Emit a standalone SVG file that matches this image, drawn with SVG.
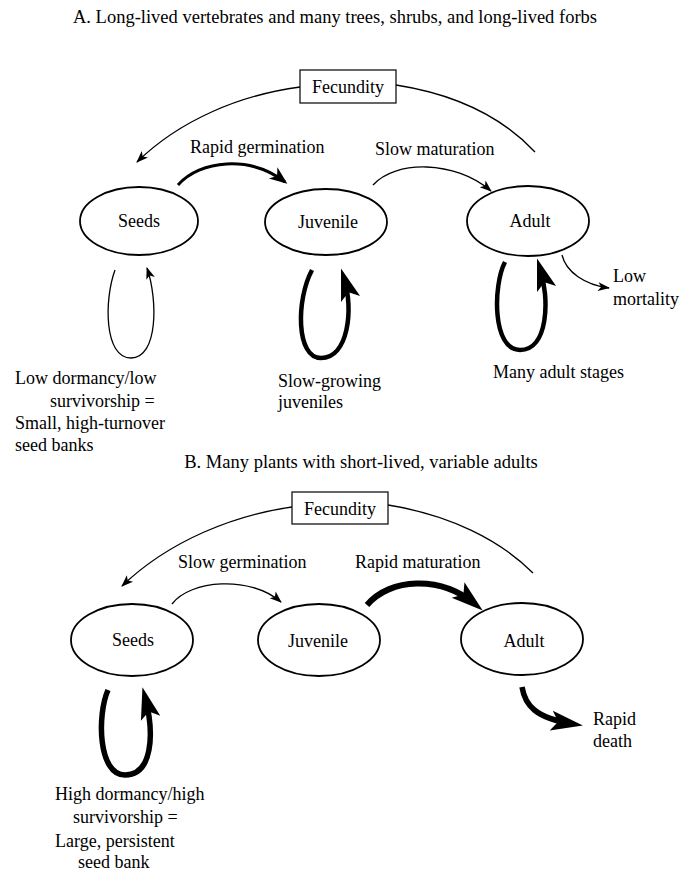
<svg xmlns="http://www.w3.org/2000/svg" width="683" height="872" viewBox="0 0 683 872">
<style>
text{font-family:"Liberation Serif","Times New Roman",serif;font-size:18px;fill:#000}
.title{font-size:18.5px}
.c{text-anchor:middle}
.node{fill:#fff;stroke:#000;stroke-width:1.8}
.box{fill:#fff;stroke:#000;stroke-width:1.2}
.thin{fill:none;stroke:#000;stroke-width:1.3}
.mid{fill:none;stroke:#000;stroke-width:3}
.thick{fill:none;stroke:#000;stroke-width:4.5}
.heavy{fill:none;stroke:#000;stroke-width:5.5}
</style>
<defs>
<marker id="aThin" markerUnits="userSpaceOnUse" viewBox="-13 -6 14 12" markerWidth="14" markerHeight="12" refX="0" refY="0" orient="auto" overflow="visible"><path d="M1,0 L-11,-4.5 L-8,0 L-11,4.5 Z" fill="#000"/></marker>
<marker id="aMid" markerUnits="userSpaceOnUse" viewBox="-20 -9 24 18" markerWidth="24" markerHeight="18" refX="0" refY="0" orient="auto" overflow="visible"><path d="M3,0 L-15,-7 L-10,0 L-15,7 Z" fill="#000"/></marker>
<marker id="aBig" markerUnits="userSpaceOnUse" viewBox="-26 -12 38 24" markerWidth="38" markerHeight="24" refX="0" refY="0" orient="auto" overflow="visible"><path d="M10,0 L-22,-10 L-15,0 L-22,10 Z" fill="#000"/></marker>
</defs>

<text class="title c" x="335" y="23">A. Long-lived vertebrates and many trees, shrubs, and long-lived forbs</text>
<text class="title c" x="361" y="468">B. Many plants with short-lived, variable adults</text>

<g id="connectors">
  <!-- Panel A -->
  <path class="thin" d="M300,87 C240,95 180,120 137,162" marker-end="url(#aThin)"/>
  <path class="thin" d="M396,85 C460,95 505,120 535,152"/>
  <path class="mid" d="M178,185 C200,160 250,155 285,182" marker-end="url(#aMid)"/>
  <path class="thin" d="M373,185 C395,160 455,160 491,191" marker-end="url(#aThin)"/>
  <path class="thin" d="M115,270 C104,300 104,358 131,358 C158,358 158,300 147,268" marker-end="url(#aThin)"/>
  <path class="thick" d="M312,270 C296,300 296,358 321,358 C348,358 354,310 344,278" marker-end="url(#aBig)"/>
  <path class="thick" d="M505,262 C493,285 492,350 520,350 C548,350 550,300 540,268" marker-end="url(#aBig)"/>
  <path class="thin" d="M562,255 C566,272 585,285 609,288" marker-end="url(#aThin)"/>
  <!-- Panel B -->
  <path class="thin" d="M292,507 C235,515 170,540 122,586" marker-end="url(#aThin)"/>
  <path class="thin" d="M388,505 C450,515 500,540 533,573"/>
  <path class="thin" d="M172,604 C190,580 250,575 281,602" marker-end="url(#aThin)"/>
  <path class="heavy" style="stroke-width:6" d="M367,605 C390,578 440,575 475,604" marker-end="url(#aBig)"/>
  <path class="heavy" d="M522,687 C525,705 535,718 573,724" marker-end="url(#aBig)"/>
  <path class="heavy" d="M108,690 C97,715 98,775 125,775 C152,775 155,735 145,697" marker-end="url(#aBig)"/>

  <text x="190" y="153">Rapid germination</text>
  <text x="375" y="155">Slow maturation</text>
  <text x="15" y="384">Low dormancy/low</text>
  <text x="50" y="407">survivorship =</text>
  <text x="15" y="429">Small, high-turnover</text>
  <text x="15" y="451">seed banks</text>
  <text x="278" y="387">Slow-growing</text>
  <text x="278" y="408">juveniles</text>
  <text x="493" y="378">Many adult stages</text>
  <text x="613" y="282">Low</text>
  <text x="613" y="305">mortality</text>

  <text x="178" y="568">Slow germination</text>
  <text x="355" y="568">Rapid maturation</text>
  <text x="593" y="725">Rapid</text>
  <text x="593" y="747">death</text>
  <text x="55" y="800">High dormancy/high</text>
  <text x="73" y="823">survivorship =</text>
  <text x="55" y="847">Large, persistent</text>
  <text x="78" y="868">seed bank</text>
</g>

<g id="fecundityA"><rect class="box" x="300" y="70" width="96" height="33"/><text class="c" x="348" y="93">Fecundity</text></g>
<g id="seedsA"><ellipse class="node" cx="139" cy="221" rx="59" ry="34"/><text class="c" x="139" y="227">Seeds</text></g>
<g id="juvenileA"><ellipse class="node" cx="326" cy="222" rx="61" ry="33"/><text class="c" x="328" y="228">Juvenile</text></g>
<g id="adultA"><ellipse class="node" cx="528" cy="221" rx="61" ry="35"/><text class="c" x="530" y="227">Adult</text></g>

<g id="fecundityB"><rect class="box" x="292" y="492" width="96" height="32"/><text class="c" x="340" y="515">Fecundity</text></g>
<g id="seedsB"><ellipse class="node" cx="132" cy="640" rx="61" ry="36"/><text class="c" x="133" y="646">Seeds</text></g>
<g id="juvenileB"><ellipse class="node" cx="319" cy="640" rx="61" ry="36"/><text class="c" x="318" y="647">Juvenile</text></g>
<g id="adultB"><ellipse class="node" cx="522" cy="639" rx="61" ry="36"/><text class="c" x="524" y="647">Adult</text></g>
</svg>
